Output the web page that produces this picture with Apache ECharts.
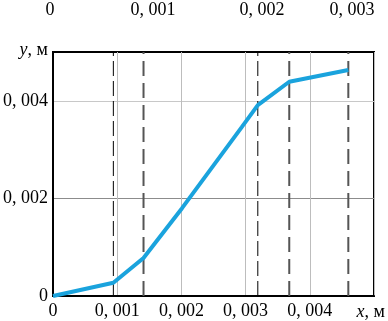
<!DOCTYPE html>
<html><head><meta charset="utf-8">
<script src="https://cdn.jsdelivr.net/npm/echarts@6/dist/echarts.min.js"></script>
<style>html,body{margin:0;padding:0;background:#fff}#c{width:388px;height:321px}</style>
</head><body><div id="c"></div>
<script>
const xValues = [0, 0.00094, 0.00141, 0.00201, 0.00294, 0.00319, 0.00368, 0.00460];
const yValues = [0, 0.00027, 0.00078, 0.00180, 0.00346, 0.00391, 0.00439, 0.00463];
const dashedBlack = [0.00094, 0.00319];
const dashedGray = [0.00141, 0.00368, 0.00460];
const topTickLabels = ['0', '0, 001', '0, 002', '0, 003'];
const xName = 'x';
const yName = 'y';
const unit = 'м';

const FONT = 'Liberation Serif';
const FS = 18;
const YMAX = 0.005;
const fmt = v => v === 0 ? '0' : v.toFixed(3).replace('.', ', ');

const topPos = [50, 153, 262, 352];

function vline(x, color, width, dash) {
  return {
    type: 'line', data: [[x, 0], [x, YMAX]], symbol: 'none', silent: true, z: 2,
    lineStyle: {color: color, width: width, type: dash}
  };
}

const chart = echarts.init(document.getElementById('c'), null, {renderer: 'canvas'});
chart.setOption({
  animation: false,
  backgroundColor: '#fff',
  grid: {left: 53, right: 12, top: 52, bottom: 25, show: true, borderColor: '#000', borderWidth: 2, backgroundColor: 'transparent'},
  xAxis: {
    type: 'value', min: 0, max: YMAX, interval: 0.001,
    axisLine: {show: true, lineStyle: {color: '#000', width: 2}},
    axisTick: {show: false},
    splitLine: {show: true, lineStyle: {color: '#bdbdbd', width: 1}},
    axisLabel: {formatter: fmt, showMaxLabel: false, color: '#000', fontFamily: FONT, fontSize: FS, margin: 6},
    name: '{i|' + xName + '}, ' + unit, nameLocation: 'end', nameGap: 11,
    nameTextStyle: {color: '#000', fontFamily: FONT, fontSize: FS, align: 'right', verticalAlign: 'top', padding: [7, 0, 0, 0],
      rich: {i: {fontStyle: 'italic', fontFamily: FONT, fontSize: FS, color: '#000'}}}
  },
  yAxis: {
    type: 'value', min: 0, max: YMAX, interval: 0.002,
    axisLine: {show: true, lineStyle: {color: '#000', width: 2}},
    axisTick: {show: false},
    splitLine: {show: true, lineStyle: {color: ['#000', '#8c8c8c', '#c8c8c8', '#000'], width: 1}},
    axisLabel: {formatter: fmt, showMaxLabel: false, color: '#000', fontFamily: FONT, fontSize: FS, margin: 5},
    name: '{i|' + yName + '}, ' + unit, nameLocation: 'end', nameGap: 0,
    nameTextStyle: {color: '#000', fontFamily: FONT, fontSize: FS, align: 'right', verticalAlign: 'middle', padding: [0, 5, 4, 0],
      rich: {i: {fontStyle: 'italic', fontFamily: FONT, fontSize: FS, color: '#000'}}}
  },
  graphic: topTickLabels.map((t, i) => ({
    type: 'text', x: topPos[i], y: 1,
    style: {text: t, fill: '#000', font: FS + 'px "' + FONT + '"', textAlign: 'center'}
  })),
  series: dashedBlack.map(x => vline(x, '#000', 1, [15, 5]))
    .concat(dashedGray.map(x => vline(x, '#555', 2, [15, 7])))
    .concat([{
      type: 'line',
      data: xValues.map((x, i) => [x, yValues[i]]),
      symbol: 'none',
      lineStyle: {color: '#1aa3dd', width: 4},
      z: 3
    }])
});
</script></body></html>
